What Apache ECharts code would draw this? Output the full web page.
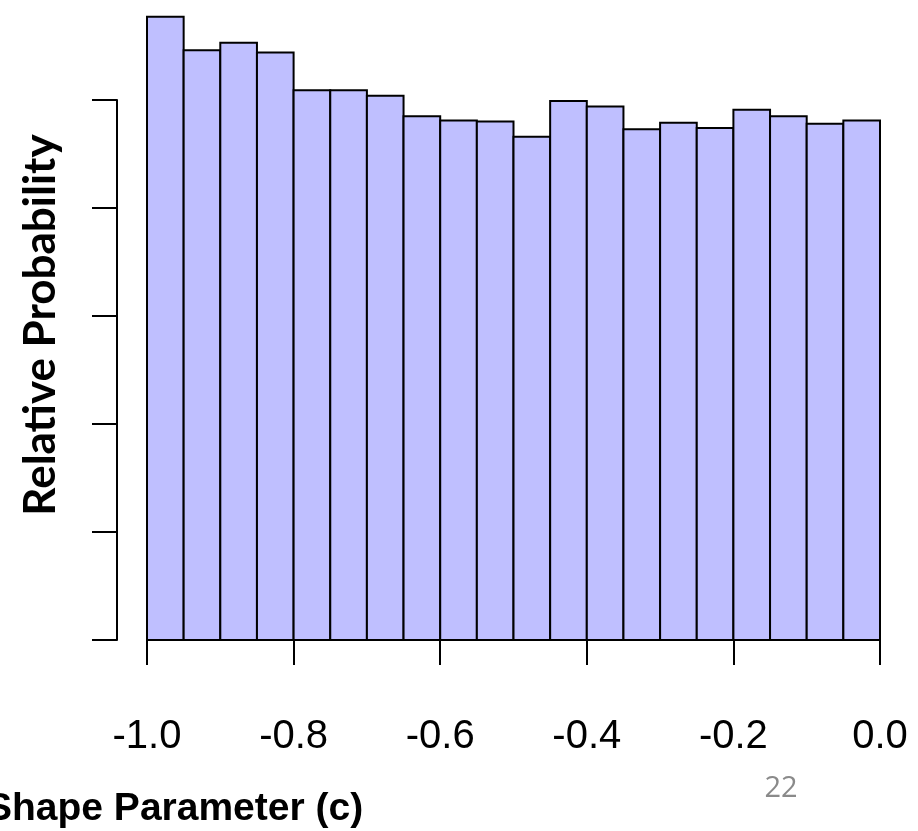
<!DOCTYPE html>
<html>
<head>
<meta charset="utf-8">
<script src="https://cdn.jsdelivr.net/npm/echarts@6/dist/echarts.min.js"></script>
<style>
  html, body { margin: 0; padding: 0; background: #ffffff; }
  #chart { width: 918px; height: 831px; }
</style>
</head>
<body>
<div id="chart"></div>
<script>
// Histogram bin edges (shape parameter c)
const binEdges = [-1.00, -0.95, -0.90, -0.85, -0.80, -0.75, -0.70, -0.65, -0.60, -0.55,
                  -0.50, -0.45, -0.40, -0.35, -0.30, -0.25, -0.20, -0.15, -0.10, -0.05, 0.00];
// Relative probability per bin
const binHeights = [5.77, 5.46, 5.53, 5.44, 5.09, 5.09, 5.04, 4.85, 4.81, 4.80,
                    4.66, 4.99, 4.94, 4.73, 4.79, 4.74, 4.91, 4.85, 4.78, 4.81];
// X axis tick labels
const xTicks = [-1.0, -0.8, -0.6, -0.4, -0.2, 0.0];
const xTickLabels = ['-1.0', '-0.8', '-0.6', '-0.4', '-0.2', '0.0'];
// Y axis ticks (unlabelled)
const yTickMin = 0, yTickMax = 5, yTickStep = 1;

const xTitle = 'Shape Parameter (c)';
const yTitle = 'Relative Probability';
const pageNumber = '22';

const barData = binHeights.map((h, i) => [binEdges[i], binEdges[i + 1], h]);

const yMax = 5.9;
const unitPx = 108;
const plotBottom = 640;

const chart = echarts.init(document.getElementById('chart'), null, { renderer: 'canvas' });

chart.setOption({
  animation: false,
  backgroundColor: '#ffffff',
  grid: [
    { left: 147, width: 733, top: plotBottom - unitPx * yMax, height: unitPx * yMax },
    { left: 117, width: 30, top: plotBottom - unitPx * yTickMax, height: unitPx * yTickMax }
  ],
  xAxis: [
    {
      gridIndex: 0, type: 'value', min: -1, max: 0, interval: 0.2,
      position: 'bottom', offset: 24,
      axisLine: { show: true, lineStyle: { color: '#000', width: 2 } },
      axisTick: { show: true, length: 25, lineStyle: { color: '#000', width: 2 } },
      axisLabel: {
        show: true, margin: 53,
        fontFamily: 'Liberation Sans', fontSize: 40, color: '#000',
        formatter: v => {
          const k = xTicks.findIndex(t => Math.abs(t - v) < 1e-9);
          return k >= 0 ? xTickLabels[k] : '';
        }
      },
      splitLine: { show: false }
    },
    { gridIndex: 1, type: 'value', min: 0, max: 1, show: false }
  ],
  yAxis: [
    { gridIndex: 0, type: 'value', min: 0, max: yMax, show: false },
    {
      gridIndex: 1, type: 'value', min: yTickMin, max: yTickMax, interval: yTickStep,
      position: 'left',
      axisLine: { show: true, lineStyle: { color: '#000', width: 2 } },
      axisTick: { show: true, length: 25, lineStyle: { color: '#000', width: 2 } },
      axisLabel: { show: false },
      splitLine: { show: false }
    }
  ],
  series: [
    {
      type: 'custom',
      xAxisIndex: 0, yAxisIndex: 0,
      data: barData,
      renderItem: function (params, api) {
        const p0 = api.coord([api.value(0), api.value(2)]);
        const p1 = api.coord([api.value(1), 0]);
        return {
          type: 'rect',
          shape: { x: p0[0], y: p0[1], width: p1[0] - p0[0], height: p1[1] - p0[1] },
          style: { fill: '#BFBFFF', stroke: '#000', lineWidth: 2 }
        };
      }
    }
  ],
  graphic: [
    {
      type: 'text', x: 41, y: 325, rotation: Math.PI / 2,
      style: {
        text: yTitle, font: 'bold 44px Lato', fill: '#000',
        textAlign: 'center', textVerticalAlign: 'middle'
      }
    },
    {
      type: 'text', x: -14, y: 809,
      style: {
        text: xTitle, font: 'bold 39px "Liberation Sans"', fill: '#000',
        textAlign: 'left', textVerticalAlign: 'middle'
      }
    },
    {
      type: 'text', x: 781, y: 789,
      style: {
        text: pageNumber, font: '29px "Open Sans"', fill: '#8a8a8a',
        textAlign: 'center', textVerticalAlign: 'middle'
      }
    }
  ]
});
</script>
</body>
</html>
